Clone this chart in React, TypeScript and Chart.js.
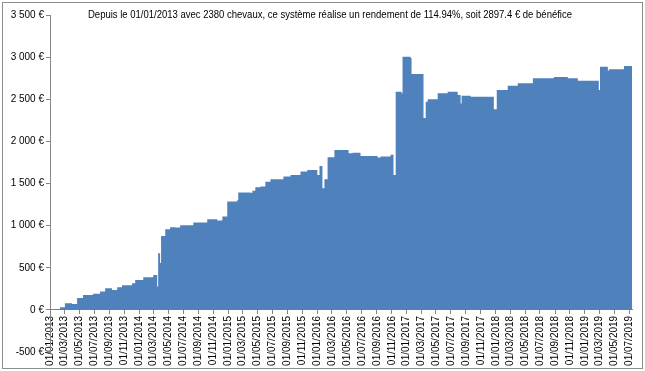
import React, { useEffect, useRef } from 'react';
import { Chart, registerables } from 'chart.js';

Chart.register(...registerables);

const TITLE =
  'Depuis le 01/01/2013 avec 2380 chevaux, ce système réalise un rendement de 114.94%, soit 2897.4 € de bénéfice';

// Daily-ish cumulative profit (sampled at the visible steps)
const dates = [
  '2013-01-01', '2013-01-21', '2013-02-11', '2013-03-03', '2013-04-01', '2013-04-22', '2013-05-16',
  '2013-06-26', '2013-07-25', '2013-08-15', '2013-09-12', '2013-10-03', '2013-10-23', '2013-12-03',
  '2013-12-16', '2014-01-18', '2014-02-28', '2014-03-16', '2014-03-20', '2014-03-28', '2014-04-01',
  '2014-04-18', '2014-05-08', '2014-05-29', '2014-06-18', '2014-08-11', '2014-10-07', '2014-11-17',
  '2014-12-08', '2014-12-28', '2015-02-07', '2015-02-11', '2015-04-02', '2015-04-10', '2015-04-22',
  '2015-05-13', '2015-06-02', '2015-06-23', '2015-08-15', '2015-09-13', '2015-10-24', '2015-11-21',
  '2016-01-01', '2016-01-10', '2016-01-22', '2016-01-30', '2016-02-12', '2016-03-11', '2016-05-08',
  '2016-05-24', '2016-06-26', '2016-09-04', '2016-09-16', '2016-10-27', '2016-11-08', '2016-11-17',
  '2016-12-11', '2016-12-15', '2017-01-17', '2017-01-21', '2017-03-11', '2017-03-20', '2017-03-28',
  '2017-05-08', '2017-06-18', '2017-07-29', '2017-08-10', '2017-08-14', '2017-09-20', '2017-12-24',
  '2018-01-05', '2018-02-19', '2018-04-01', '2018-06-02', '2018-08-27', '2018-10-23', '2018-12-03',
  '2019-02-27', '2019-03-04', '2019-04-05', '2019-04-10', '2019-06-10', '2019-07-13',
];

const profits = [
  0, 10, 30, 80, 70, 140, 178,
  190, 217, 257, 237, 269, 293, 316,
  356, 388, 415, 276, 672, 557, 878,
  957, 981, 978, 1005, 1036, 1076, 1060,
  1107, 1285, 1305, 1392, 1390, 1415, 1455,
  1463, 1522, 1550, 1582, 1602, 1641, 1661,
  1602, 1708, 1444, 1550, 1812, 1898, 1859,
  1866, 1827, 1810, 1819, 1840, 1600, 2590,
  2570, 3005, 2990, 2800, 2278, 2471, 2500,
  2571, 2590, 2550, 2450, 2542, 2531, 2380,
  2610, 2660, 2690, 2749, 2765, 2749, 2720,
  2610, 2887, 2840, 2855, 2895, 2897.4,
];

const xTickLabels = [
  '01/01/2013', '01/03/2013', '01/05/2013', '01/07/2013', '01/09/2013', '01/11/2013',
  '01/01/2014', '01/03/2014', '01/05/2014', '01/07/2014', '01/09/2014', '01/11/2014',
  '01/01/2015', '01/03/2015', '01/05/2015', '01/07/2015', '01/09/2015', '01/11/2015',
  '01/01/2016', '01/03/2016', '01/05/2016', '01/07/2016', '01/09/2016', '01/11/2016',
  '01/01/2017', '01/03/2017', '01/05/2017', '01/07/2017', '01/09/2017', '01/11/2017',
  '01/01/2018', '01/03/2018', '01/05/2018', '01/07/2018', '01/09/2018', '01/11/2018',
  '01/01/2019', '01/03/2019', '01/05/2019', '01/07/2019',
];

const Y_MIN = -500;
const Y_MAX = 3500;
const Y_STEP = 500;

const ORIGIN = Date.UTC(2013, 0, 1);
const isoToDay = (s: string) => {
  const [y, m, d] = s.split('-').map(Number);
  return (Date.UTC(y, m - 1, d) - ORIGIN) / 86400000;
};
const frToDay = (s: string) => {
  const [d, m, y] = s.split('/').map(Number);
  return (Date.UTC(y, m - 1, d) - ORIGIN) / 86400000;
};
const formatEuro = (v: number) => {
  const abs = Math.abs(v);
  const s = abs >= 1000 ? `${Math.floor(abs / 1000)} ${String(abs % 1000).padStart(3, '0')}` : String(abs);
  return `${v < 0 ? '-' : ''}${s} €`;
};

const FONT = '"Liberation Sans", Arial, sans-serif';

const decorPlugin = {
  id: 'decor',
  afterDraw(chart: any) {
    const ctx = chart.ctx as CanvasRenderingContext2D;
    ctx.save();
    ctx.strokeStyle = '#8c8c8c';
    ctx.lineWidth = 1;
    ctx.strokeRect(2.5, 2.5, chart.width - 5, chart.height - 5);
    ctx.font = `10px ${FONT}`;
    const w = ctx.measureText(TITLE).width;
    const target = 484;
    ctx.translate(330, chart.chartArea.top);
    ctx.scale(target / w, 1);
    ctx.textAlign = 'center';
    ctx.textBaseline = 'middle';
    ctx.fillStyle = '#000';
    ctx.fillText(TITLE, 0, 0);
    ctx.restore();
  },
};

export default function App() {
  const ref = useRef<HTMLCanvasElement | null>(null);
  useEffect(() => {
    document.body.style.margin = '0';
    const canvas = ref.current;
    if (!canvas) return;
    const points = dates.map((d, i) => ({ x: isoToDay(d), y: profits[i] }));
    const tickDays = xTickLabels.map(frToDay);
    const chart = new Chart(canvas, {
      type: 'line',
      data: {
        datasets: [
          {
            data: points,
            stepped: true,
            fill: 'origin',
            backgroundColor: '#4F81BD',
            borderColor: '#4F81BD',
            borderWidth: 0,
            pointRadius: 0,
          },
        ],
      },
      options: {
        responsive: false,
        animation: false,
        events: [],
        layout: { padding: { left: 0, top: 15, right: 13, bottom: 19 } },
        plugins: { legend: { display: false }, tooltip: { enabled: false }, title: { display: false } },
        scales: {
          x: {
            type: 'linear',
            position: { y: 0 } as any,
            min: 0,
            max: isoToDay(dates[dates.length - 1]),
            afterBuildTicks: (scale: any) => {
              scale.ticks = tickDays.map((v) => ({ value: v }));
            },
            ticks: {
              autoSkip: false,
              maxRotation: 90,
              minRotation: 90,
              padding: 2,
              color: '#000',
              font: { family: FONT, size: 10 },
              callback: (_v: any, i: number) => xTickLabels[i],
            },
            grid: { drawOnChartArea: false, drawTicks: true, tickLength: 4, color: '#868686' },
            border: { display: true, color: '#868686' },
          },
          y: {
            type: 'linear',
            min: Y_MIN,
            max: Y_MAX,
            afterFit: (scale: any) => {
              scale.width = 50;
            },
            ticks: {
              stepSize: Y_STEP,
              padding: 2,
              color: '#000',
              font: { family: FONT, size: 10 },
              callback: (v: any) => formatEuro(Number(v)),
            },
            grid: { drawOnChartArea: false, drawTicks: true, tickLength: 4, color: '#868686' },
            border: { display: true, color: '#868686' },
          },
        },
      },
      plugins: [decorPlugin],
    });
    return () => chart.destroy();
  }, []);
  return (
    <div style={{ width: 645, height: 371, background: '#fff' }}>
      <canvas ref={ref} width={645} height={371} style={{ display: 'block' }} />
    </div>
  );
}
